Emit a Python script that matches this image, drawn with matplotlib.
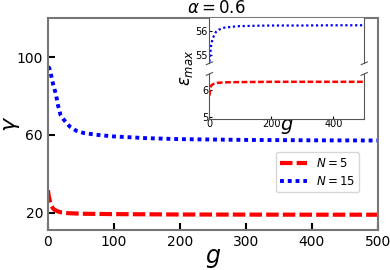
import matplotlib
matplotlib.use('Agg')
import matplotlib.pyplot as plt

# main panel data: gamma vs g
g_n5 = [0, 1, 3, 5, 8, 10, 15, 20, 30, 50, 100, 200, 300, 400, 500]
gamma_n5 = [31.5, 29.0, 25.7, 23.5, 22.0, 21.4, 20.6, 20.1, 19.7, 19.4, 19.2, 19.0, 18.95, 18.9, 18.9]
g_n15 = [0, 2, 5, 8, 12, 15, 19, 25, 33, 43, 55, 66, 80, 100, 150, 200, 300, 400, 500]
gamma_n15 = [95.0, 94.4, 90.4, 85.8, 81.0, 75.5, 70.3, 67.4, 64.3, 62.1, 60.9, 60.4, 59.8, 59.2, 58.3, 57.8, 57.4, 57.2, 57.1]

# inset data: epsilon_max vs g
g_in_n5 = [0, 2, 5, 10, 16, 25, 50, 100, 200, 300, 400, 500]
eps_n5 = [5.8, 6.0, 6.16, 6.21, 6.24, 6.27, 6.29, 6.30, 6.31, 6.31, 6.31, 6.31]
g_in_n15 = [0, 2, 5, 10, 21, 30, 48, 90, 150, 200, 300, 400, 500]
eps_n15 = [54.7, 54.94, 55.35, 55.67, 55.96, 56.05, 56.14, 56.2, 56.22, 56.23, 56.23, 56.24, 56.24]

labels = ['$N=5$', '$N=15$']

fig = plt.figure(figsize=(3.9, 2.7), dpi=100)
ax = fig.add_axes([0.123, 0.148, 0.846, 0.784])
ax.plot(g_n5, gamma_n5, color='red', ls=(0, (3, 1)), lw=3, label=labels[0])
ax.plot(g_n15, gamma_n15, color='blue', ls=(0, (1, 1)), lw=2.8, label=labels[1])
ax.set_xlim(0, 500)
ax.set_ylim(11, 120)
ax.set_xticks([0, 100, 200, 300, 400, 500])
ax.set_yticks([20, 60, 100])
ax.tick_params(direction='in', length=5, width=1.5, labelsize=10, colors='black')
for s in ax.spines.values():
    s.set_color('#777777')
    s.set_linewidth(1.5)
ax.set_xlabel('$g$', fontsize=17, labelpad=-2)
ax.set_ylabel(r'$\gamma$', fontsize=16)
ax.yaxis.set_label_coords(-0.08, 0.5)
ax.set_title(r'$\alpha=0.6$', fontsize=12, pad=4, x=0.51)
ax.legend(loc='lower right', bbox_to_anchor=(0.962, 0.15), fontsize=8.5,
          handlelength=2.3, borderpad=0.4, labelspacing=0.4, handletextpad=0.7)

# inset with broken y axis
left, width = 0.537, 0.397
ax_up = fig.add_axes([left, 0.7656, width, 0.167])
ax_lo = fig.add_axes([left, 0.558, width, 0.168])
ax_up.plot(g_in_n15, eps_n15, color='blue', ls=(0, (1, 1.2)), lw=1.6)
ax_lo.plot(g_in_n5, eps_n5, color='red', ls=(0, (2.3, 1)), lw=1.8)
ax_up.set_ylim(54.63, 56.54)
ax_lo.set_ylim(4.92, 6.6)
for a in (ax_up, ax_lo):
    a.set_xlim(0, 500)
    a.tick_params(direction='in', length=2, width=0.8, labelsize=7, pad=1)
    for s in a.spines.values():
        s.set_color('#555555')
        s.set_linewidth(0.8)
ax_up.set_yticks([55, 56])
ax_lo.set_yticks([5, 6])
ax_up.spines['bottom'].set_visible(False)
ax_up.spines['top'].set_visible(False)
ax_lo.spines['top'].set_visible(False)
ax_up.set_xticks([])
ax_lo.set_xticks([0, 200, 400])
ax_lo.tick_params(axis='x', pad=0)
ax_lo.set_xlabel('$g$', fontsize=14, labelpad=-9)
fig.text(0.478, 0.748, r'$\varepsilon_{max}$', rotation=90, fontsize=12,
         ha='center', va='center')

# break marks
d = 0.02
kw = dict(color='#555555', lw=0.8, clip_on=False)
for x0 in (0, 1):
    ax_up.plot([x0 - d, x0 + d], [-0.03, 0.03], transform=ax_up.transAxes, **kw)
    ax_lo.plot([x0 - d, x0 + d], [0.97, 1.03], transform=ax_lo.transAxes, **kw)

fig.savefig('out.png', dpi=100)
